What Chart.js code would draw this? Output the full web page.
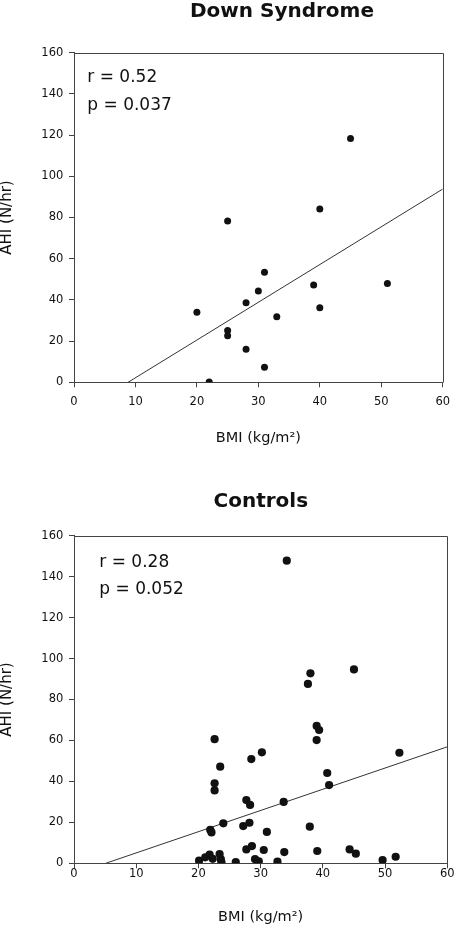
<!DOCTYPE html>
<html>
<head>
<meta charset="utf-8">
<script src="https://cdn.jsdelivr.net/npm/chart.js@4.4.1/dist/chart.umd.min.js"></script>
<style>
html,body{margin:0;padding:0;background:#fff;overflow:hidden;}
.box{position:absolute;left:0;width:455px;}
#box1{top:0;height:455px;}
#box2{top:460px;height:465px;}
</style>
</head>
<body>
<div class="box" id="box1"><canvas id="chart1"></canvas></div>
<div class="box" id="box2"><canvas id="chart2"></canvas></div>
<script>
// ---------------- Dados ----------------
const xTicks=[0,10,20,30,40,50,60];
const yTicks=[0,20,40,60,80,100,120,140,160];

// Down Syndrome
const dsBMI=[25,40,45,31,39,51,30,28,20,40,33,25,25,28,31,22];
const dsAHI=[78.3,84.1,118.3,53.4,47.2,48.0,44.3,38.6,34.0,36.2,31.8,25.2,22.6,16.0,7.3,0.1];
const dsFitBMI=[8.8,60];
const dsFitAHI=[0,93.8];

// Controls
const ctlBMI=[34.2,38.0,37.6,45.0,39.0,39.4,39.0,22.6,30.2,52.3,28.5,23.5,40.7,22.6,22.6,41.0,27.7,28.3,33.7,24.0,28.2,27.2,37.9,21.9,22.1,31.0,28.6,27.7,30.5,33.8,39.1,44.3,45.3,51.7,49.6,20.1,21.1,21.8,22.3,23.4,23.6,23.7,26.0,29.1,29.7,32.7];
const ctlAHI=[147.8,92.8,87.6,94.7,67.1,65.1,60.2,60.6,54.2,54.0,50.9,47.2,44.1,39.1,35.6,38.2,30.9,28.5,30.0,19.5,19.8,18.2,17.9,16.3,15.1,15.3,8.4,6.8,6.5,5.5,6.0,6.8,4.7,3.2,1.6,1.3,2.9,4.2,2.2,4.5,2.0,0.5,0.6,2.0,1.0,0.8];
const ctlFitBMI=[5.1,60];
const ctlFitAHI=[0,56.9];

// ---------------- Estilo ----------------
const FONT="'DejaVu Sans', sans-serif";
const AXIS="#444";
const TXT="#111";

// moldura (topo e direita) + titulo + r/p
const decoPlugin={
  id:"deco",
  afterDraw(chart,args,o){
    const ctx=chart.ctx, a=chart.chartArea;
    ctx.save();
    ctx.strokeStyle=AXIS; ctx.lineWidth=1;
    ctx.beginPath();
    ctx.moveTo(Math.round(a.left)+0.5,Math.round(a.top)+0.5);
    ctx.lineTo(Math.round(a.right)+0.5,Math.round(a.top)+0.5);
    ctx.lineTo(Math.round(a.right)+0.5,Math.round(a.bottom)+0.5);
    ctx.stroke();
    ctx.fillStyle=TXT;
    ctx.textBaseline="alphabetic";
    ctx.textAlign="center";
    ctx.font="bold 20px "+FONT;
    ctx.fillText(o.title,o.titleX,o.titleY);
    ctx.textAlign="left";
    ctx.font="17px "+FONT;
    o.lines.forEach((t,i)=>ctx.fillText(t,o.textX,o.textY[i]));
    ctx.restore();
  }
};

function makeChart(id,bmi,ahi,fitX,fitY,L){
  const pts=bmi.map((x,i)=>({x:x,y:ahi[i]}));
  const fit=fitX.map((x,i)=>({x:x,y:fitY[i]}));
  return new Chart(document.getElementById(id),{
    type:"scatter",
    data:{datasets:[
      {data:fit,type:"line",showLine:true,borderColor:"#333",borderWidth:1,pointRadius:0,fill:false,order:2},
      {data:pts,backgroundColor:"#111",borderWidth:0,pointRadius:L.r,pointHoverRadius:L.r,order:1}
    ]},
    options:{
      responsive:true,maintainAspectRatio:false,animation:false,
      layout:{padding:{top:L.top,right:L.right,left:0,bottom:0}},
      plugins:{legend:{display:false},tooltip:{enabled:false},deco:L.deco},
      scales:{
        x:{type:"linear",min:0,max:60,
          afterBuildTicks:s=>{s.ticks=xTicks.map(v=>({value:v}));},
          afterFit:s=>{s.height=L.xh;},
          grid:{drawOnChartArea:false,drawTicks:true,tickLength:5,color:AXIS},
          border:{display:true,color:AXIS,width:1},
          ticks:{color:TXT,font:{family:FONT,size:11.5,lineHeight:L.xlh},padding:L.xpad,maxRotation:0,autoSkip:false},
          title:{display:true,text:"BMI (kg/m²)",color:TXT,font:{family:FONT,size:14.5,lineHeight:1},padding:{top:0,bottom:L.xtpad}}
        },
        y:{type:"linear",min:0,max:160,
          afterBuildTicks:s=>{s.ticks=yTicks.map(v=>({value:v}));},
          afterFit:s=>{s.width=74;},
          grid:{drawOnChartArea:false,drawTicks:true,tickLength:5,color:AXIS},
          border:{display:true,color:AXIS,width:1},
          ticks:{color:TXT,font:{family:FONT,size:11.5},padding:5.7,autoSkip:false},
          title:{display:true,text:"AHI (N/hr)",color:TXT,font:{family:FONT,size:15,lineHeight:1},padding:{top:0,bottom:0}}
        }
      }
    },
    plugins:[decoPlugin]
  });
}

makeChart("chart1",dsBMI,dsAHI,dsFitBMI,dsFitAHI,{
  top:52.7,right:12.3,xh:72.7,xpad:0,xlh:2.5,xtpad:9.75,r:3.5,
  deco:{title:"Down Syndrome",titleX:282,titleY:16.8,lines:["r = 0.52","p = 0.037"],textX:87.3,textY:[82.3,110]}
});
makeChart("chart2",ctlBMI,ctlAHI,ctlFitBMI,ctlFitAHI,{
  top:75.7,right:7.7,xh:61.7,xpad:-0.9,xlh:1.2,xtpad:0.25,r:4.1,
  deco:{title:"Controls",titleX:260.8,titleY:47.3,lines:["r = 0.28","p = 0.052"],textX:99.3,textY:[106.7,134]}
});
</script>
</body>
</html>
